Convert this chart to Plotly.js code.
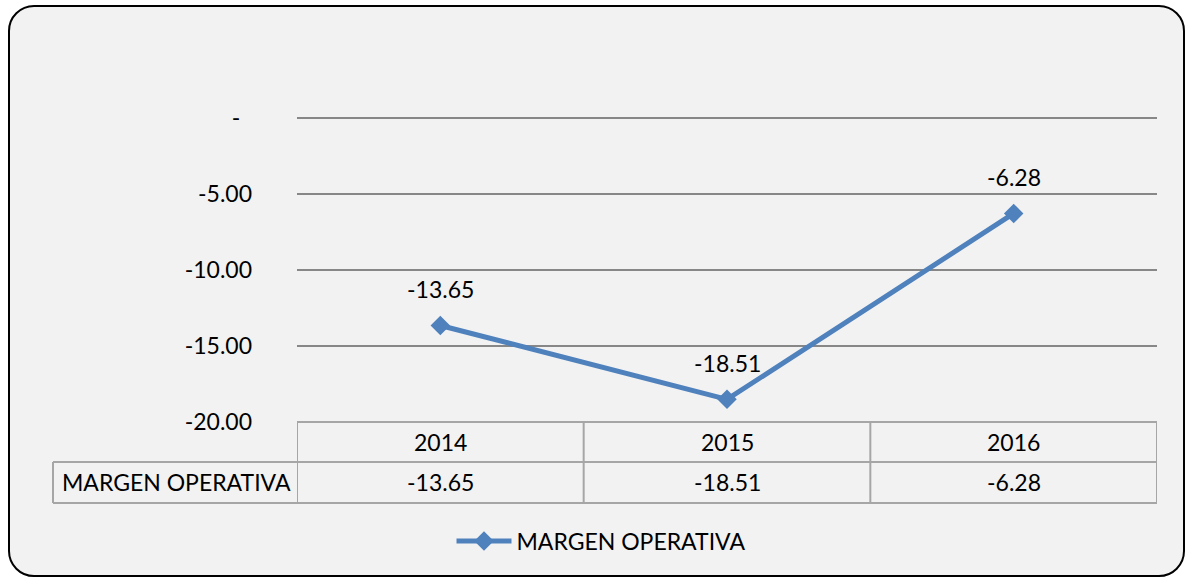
<!DOCTYPE html>
<html>
<head>
<meta charset="utf-8">
<script src="https://cdn.plot.ly/plotly-3.0.1.min.js"></script>
<style>
  html, body { margin: 0; padding: 0; background: #ffffff; }
  #frame { position: absolute; left: 8px; top: 5px; width: 1177px; height: 572px; box-sizing: border-box;
           border: 2px solid #000; border-radius: 26px; background: #f2f2f2; }
  #chart { position: absolute; left: 0; top: 0; width: 1188px; height: 579px; }
</style>
</head>
<body>
<div id="frame"></div>
<div id="chart"></div>
<script>
const categories = ['2014', '2015', '2016'];
const seriesName = 'MARGEN OPERATIVA';
const values = [-13.65, -18.51, -6.28];
const yTickVals = [0, -5, -10, -15, -20];
const yTickText = ['-\u00a0\u00a0', '-5.00', '-10.00', '-15.00', '-20.00'];

const FONT = 'Lato, "Open Sans", sans-serif';
const FS = 23;
const W = 1188, H = 579;
const L = 297, R = 31, T = 118, B = 157;
const pw = W - L - R, ph = H - T - B;
const px2x = p => (p - L) / pw;
const py2y = p => (H - B - p) / ph;

const xIdx = categories.map((c, i) => i);
const fmt = v => v.toFixed(2);

const trace = {
  x: xIdx, y: values, name: seriesName, type: 'scatter', mode: 'lines+markers',
  line: { color: '#4f81bd', width: 5 },
  marker: { symbol: 'diamond', size: 15, color: '#4f81bd' },
  cliponaxis: false
};

const gridCol = '#878787';
const tblCol = '#a6a6a6';
const row1 = py2y(462), row2 = py2y(503);
const leftEdge = px2x(53);
const shapes = [];
// top gridline at the range edge (paper ref so it is not clipped)
shapes.push({type:'line', xref:'paper', yref:'paper', x0:0, x1:1, y0:1, y1:1, line:{color:gridCol, width:2}, layer:'below'});
// horizontal table lines
shapes.push({type:'line', xref:'paper', yref:'paper', x0:0, x1:1, y0:0, y1:0, line:{color:tblCol, width:2}});
shapes.push({type:'line', xref:'paper', yref:'paper', x0:leftEdge, x1:1, y0:row1, y1:row1, line:{color:tblCol, width:2}});
shapes.push({type:'line', xref:'paper', yref:'paper', x0:leftEdge, x1:1, y0:row2, y1:row2, line:{color:tblCol, width:2}});
// vertical table lines at category boundaries
for (let i = 0; i <= categories.length; i++) {
  shapes.push({type:'line', xref:'x', yref:'paper', x0:i - 0.5, x1:i - 0.5, y0:0, y1:row2, line:{color:tblCol, width:2}});
}
shapes.push({type:'line', xref:'paper', yref:'paper', x0:leftEdge, x1:leftEdge, y0:row1, y1:row2, line:{color:tblCol, width:2}});

const annotations = [];
categories.forEach((c, i) => {
  annotations.push({x:i, xref:'x', y:(0 + row1) / 2, yref:'paper', text:c, showarrow:false,
    font:{family:FONT, size:FS, color:'#000'}, yanchor:'middle'});
  annotations.push({x:i, xref:'x', y:(row1 + row2) / 2, yref:'paper', text:fmt(values[i]), showarrow:false,
    font:{family:FONT, size:FS, color:'#000'}, yanchor:'middle'});
  annotations.push({x:i, xref:'x', y:values[i], yref:'y', text:fmt(values[i]), showarrow:false,
    font:{family:FONT, size:FS, color:'#000'}, yanchor:'middle', yshift:36});
});
annotations.push({x:px2x(60), xref:'paper', y:(row1 + row2) / 2, yref:'paper', text:seriesName, showarrow:false,
  font:{family:FONT, size:FS, color:'#000'}, xanchor:'left', yanchor:'middle'});

const layout = {
  width: W, height: H,
  margin: {l:L, r:R, t:T, b:B, pad:0},
  paper_bgcolor: 'rgba(0,0,0,0)', plot_bgcolor: 'rgba(0,0,0,0)',
  font: {family: FONT, size: FS, color: '#000'},
  showlegend: true,
  legend: {orientation:'h', x:px2x(601), xanchor:'center', y:py2y(541), yanchor:'middle',
           font:{family:FONT, size:FS, color:'#000'}, itemwidth:55, bgcolor:'rgba(0,0,0,0)'},
  xaxis: {range:[-0.5, categories.length - 0.5], showgrid:false, zeroline:false, showline:false,
          showticklabels:false, ticks:'', fixedrange:true},
  yaxis: {range:[-20, 0], tickvals:yTickVals, ticktext:yTickText, showgrid:true, gridcolor:gridCol, gridwidth:2,
          zeroline:false, showline:false, ticks:'', ticklabelstandoff:44,
          tickfont:{family:FONT, size:FS, color:'#000'}, fixedrange:true},
  shapes: shapes,
  annotations: annotations
};

Plotly.newPlot('chart', [trace], layout, {displayModeBar:false, staticPlot:true});
</script>
</body>
</html>
